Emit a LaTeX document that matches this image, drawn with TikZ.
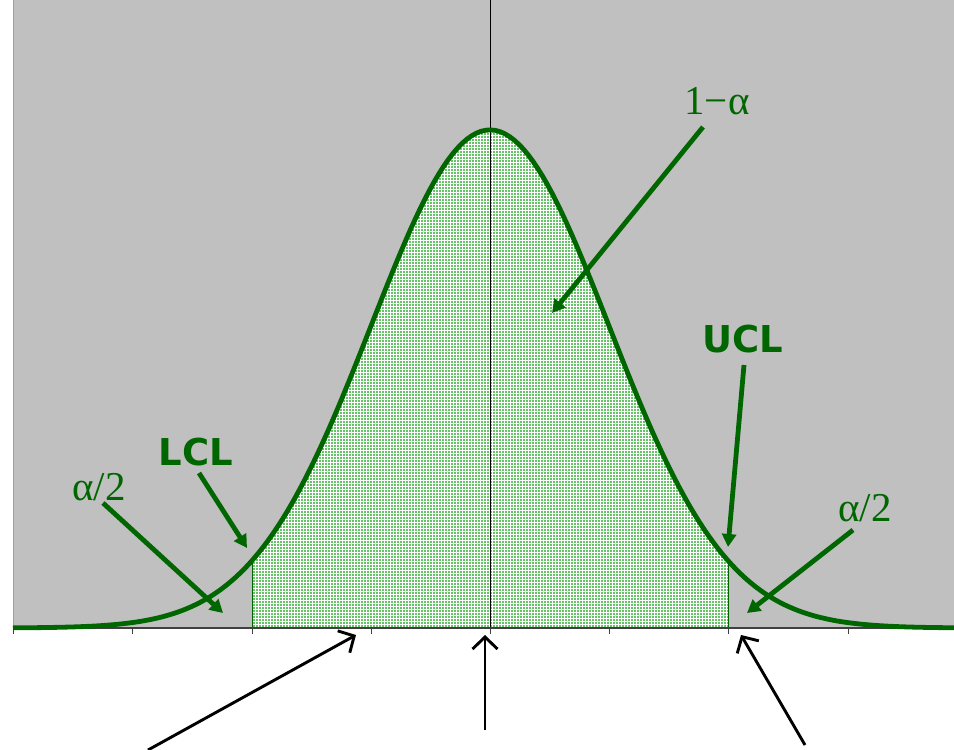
\documentclass[tikz,border=0pt]{standalone}
\usepackage{fontspec}
\setmainfont{Liberation Serif}
\newfontfamily\clfont{DejaVu Sans}
\usepackage{tikz}
\usetikzlibrary{arrows.meta,patterns,positioning}
\definecolor{darkgreen}{RGB}{0,102,0}
\definecolor{bggray}{RGB}{192,192,192}
\definecolor{shadegreen}{RGB}{100,195,100}

\begin{document}
\begin{tikzpicture}[x=1pt,y=-1pt,
    garrow/.style={-{Triangle[length=13pt,width=14pt]},line width=4.8pt,draw=darkgreen},
    karrow/.style={-{Straight Barb[length=12pt,width=25pt]},line width=2.9pt,draw=black},
    alphalbl/.style={text=darkgreen,inner sep=0pt,font=\fontsize{41}{44}\selectfont},
    cllbl/.style={text=darkgreen,inner sep=0pt,font=\clfont\bfseries\fontsize{37}{40}\selectfont}]
    \def\cx{490}
    \def\sg{119}
    \def\by{628}
    \def\hpk{498}
    \useasboundingbox (0,0) rectangle (954,750);
    % background
    \fill[bggray] (13,0) rectangle (954,\by);
    \draw[gray!75, line width=1pt] (13,0) -- (13,\by);
    % shaded area between the limits
    \path[fill=shadegreen, postaction={pattern=grid, pattern color=white}]
        (252,\by) -- plot[domain=252:728, samples=120] (\x,{\by-\hpk*exp(-0.5*((\x-\cx)/\sg)^2)})
        -- (728,\by) -- cycle;
    \draw[darkgreen, line width=1pt] (252,\by) -- (252,{\by-\hpk*exp(-2)});
    \draw[darkgreen, line width=1pt] (728,\by) -- (728,{\by-\hpk*exp(-2)});
    \draw[black, line width=1pt] (\cx,0) -- (\cx,\by);
    % axis and ticks
    \draw[black!75, line width=1.6pt] (13,\by) -- (954,\by);
    \foreach \t in {13,132,252,371,490,609,728,848}
        \draw[black!75, line width=1pt] (\t,\by) -- (\t,\by+6);
    % density curve
    \draw[darkgreen, line width=4.8pt] plot[domain=13:954, samples=200] (\x,{\by-\hpk*exp(-0.5*((\x-\cx)/\sg)^2)});
    % labels
    \node[alphalbl] (oneminus) at (717,101) {1−α};
    \node[cllbl] (ucl) at (743,339) {UCL};
    \node[cllbl] (lcl) at (196,452) {LCL};
    \node[alphalbl] (halfL) at (99,487) {α/2};
    \node[alphalbl] (halfR) at (865,508) {α/2};
    \coordinate (bodytip) at (552,313);
    \coordinate (ucltip) at (728,547);
    \coordinate (lcltip) at (247,548);
    \coordinate (tailLtip) at (223,613);
    \coordinate (tailRtip) at (747,613);
    \draw[garrow] ([shift={(-14,26)}]oneminus.center) -- (bodytip);
    \draw[garrow] ([shift={(1,26)}]ucl.center) -- (ucltip);
    \draw[garrow] ([shift={(3,21)}]lcl.center) -- (lcltip);
    \draw[garrow] ([shift={(4,16)}]halfL.center) -- (tailLtip);
    \draw[garrow] ([shift={(-12,22)}]halfR.center) -- (tailRtip);
    % arrows under the axis
    \coordinate (lclfoot) at (148,750);
    \coordinate (lclmark) at (356,635);
    \coordinate (meanfoot) at (485,730);
    \coordinate (meanmark) at (485,635);
    \coordinate (uclfoot) at (805,745);
    \coordinate (uclmark) at (741,635);
    \draw[karrow] (lclfoot) -- (lclmark);
    \draw[karrow] (meanfoot) -- (meanmark);
    \draw[karrow] (uclfoot) -- (uclmark);
\end{tikzpicture}
\end{document}
